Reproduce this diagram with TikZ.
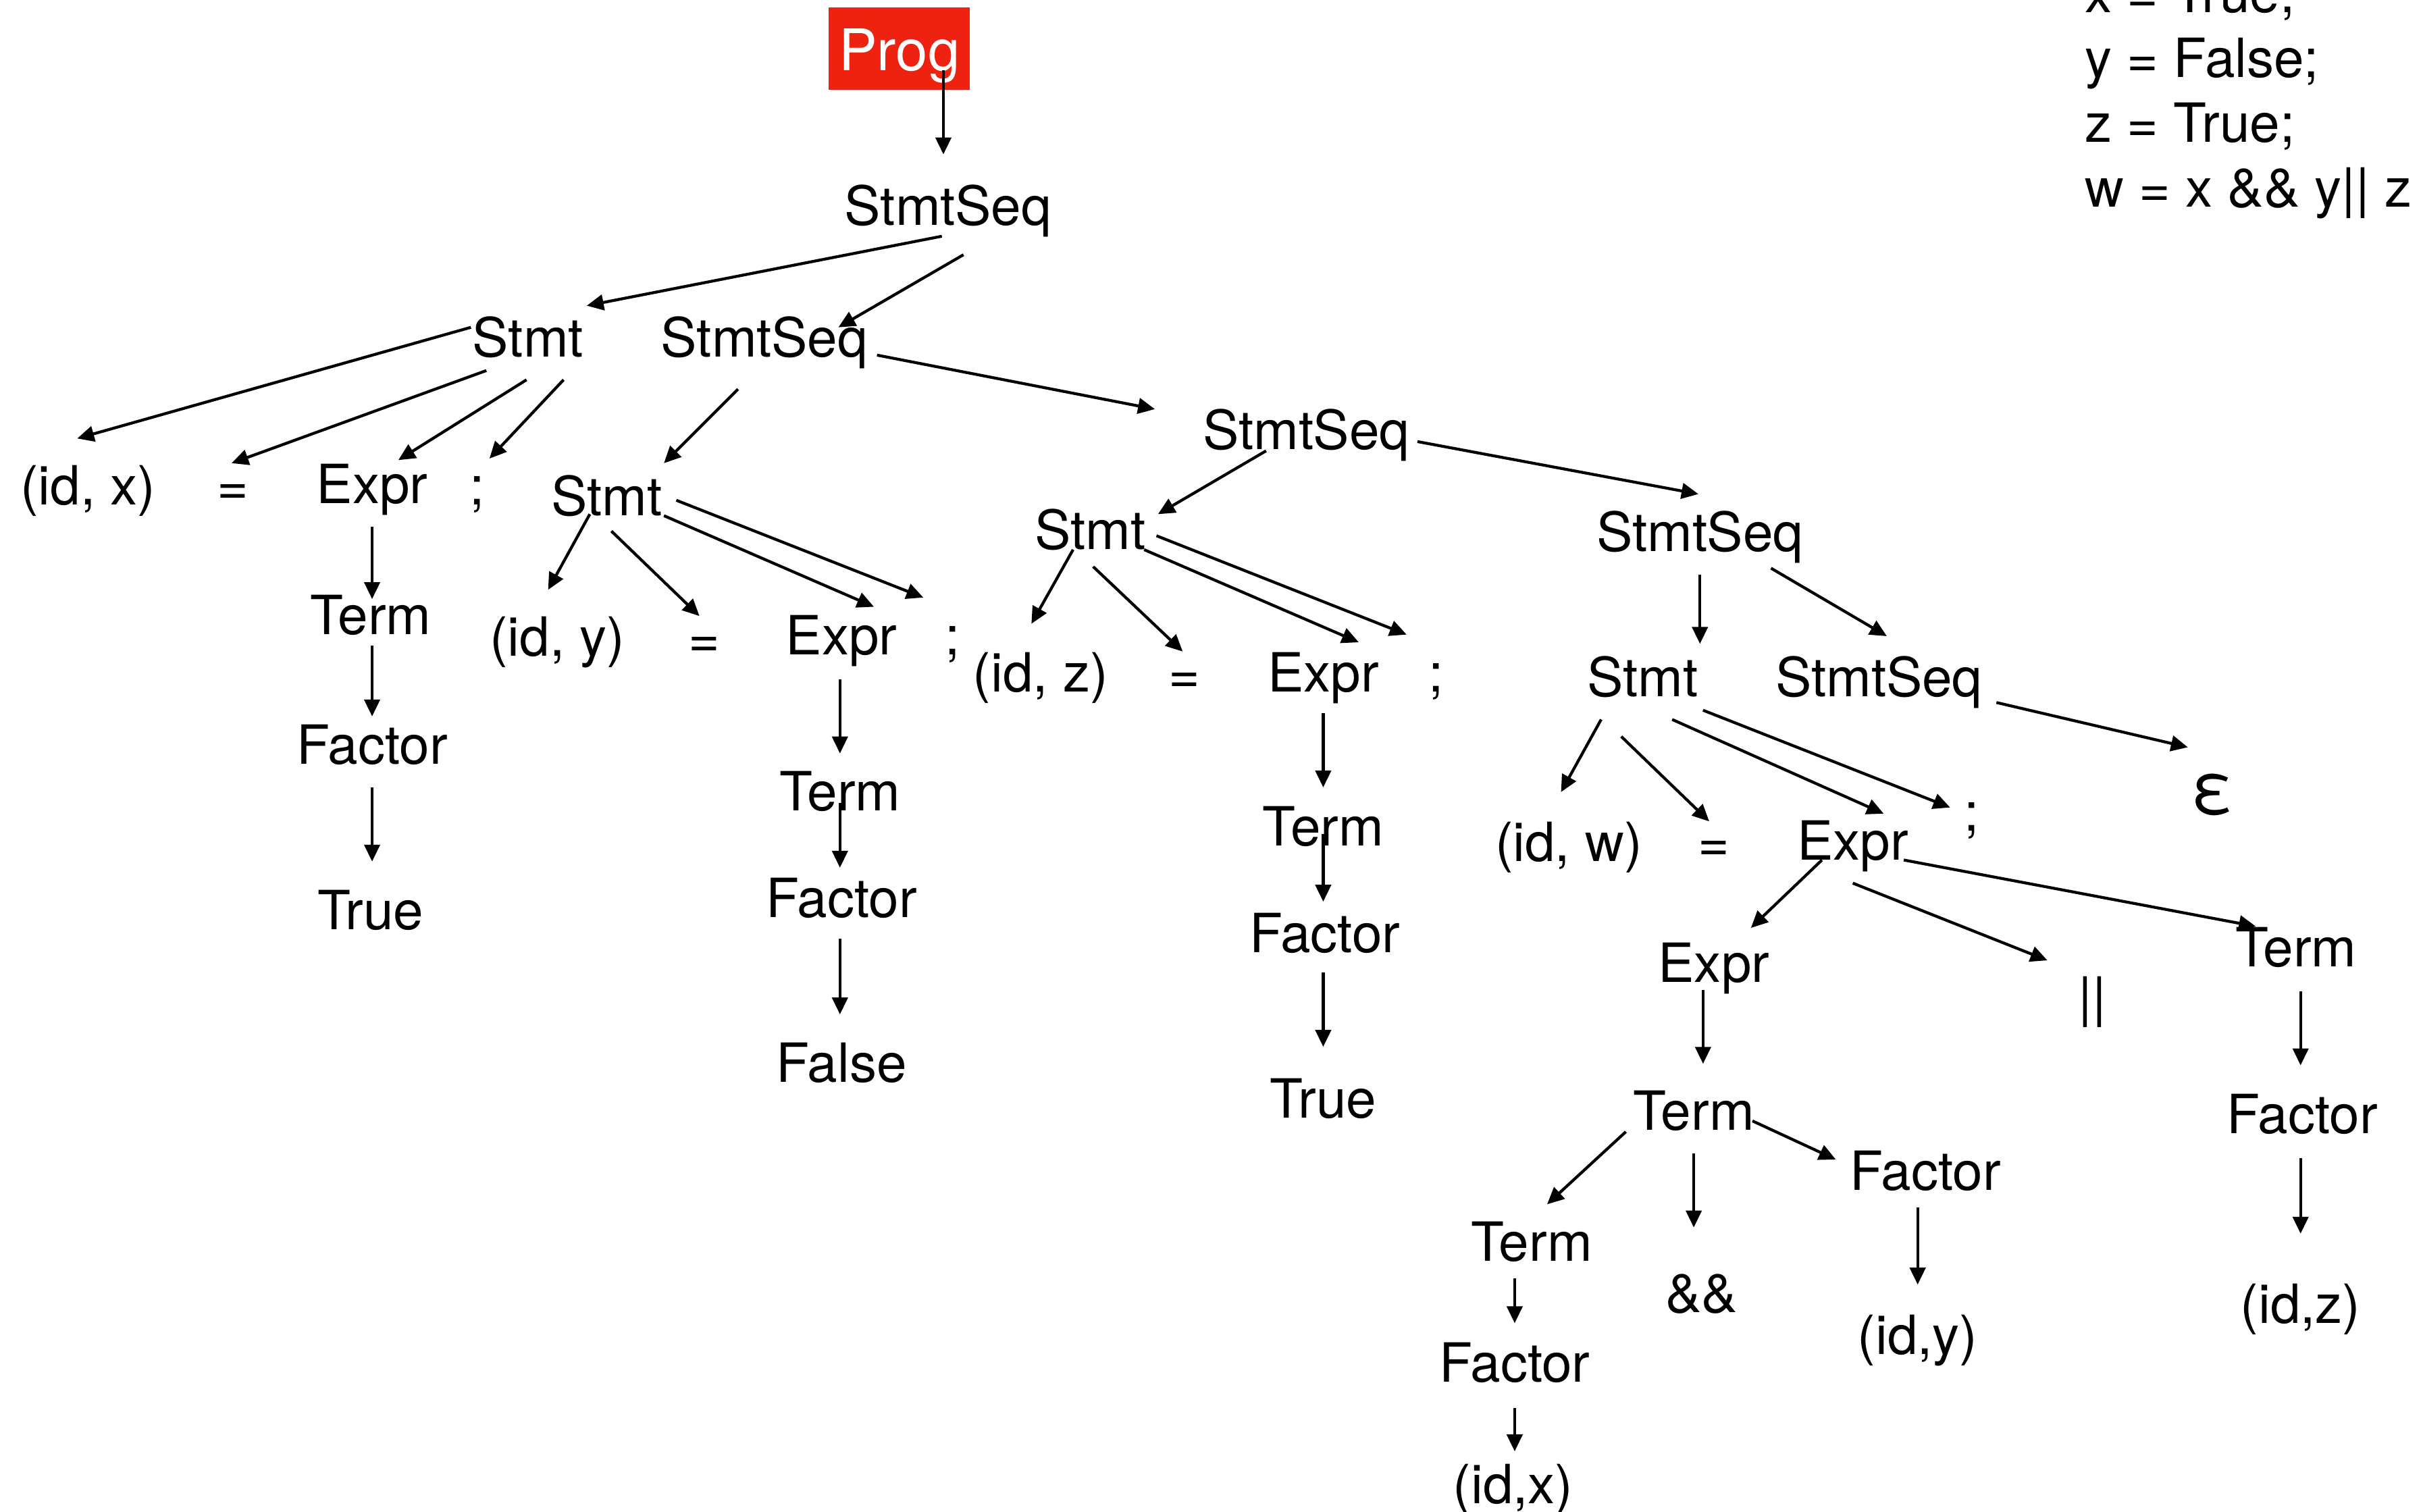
\documentclass[tikz,border=0pt]{standalone}
\usepackage{fontspec}
\setmainfont{TeX Gyre Heros}
\usetikzlibrary{arrows.meta}
\definecolor{progred}{RGB}{238,34,17}
\newcommand\tedge[4]{\draw[arr] ([shift={(#2)}]#1.base) -- ([shift={(#4)}]#3.base);}
\begin{document}
\begin{tikzpicture}[x=0.457pt,y=-0.457pt,
  lbl/.style={anchor=base,inner sep=0pt,font=\fontsize{16}{19}\selectfont},
  codeline/.style={anchor=base west,inner sep=0pt,font=\fontsize{16}{19}\selectfont},
  arr/.style={line width=0.85pt,-{Triangle[length=5pt,width=4.6pt]}}]
\useasboundingbox (0,0) rectangle (1568,979);
\clip (0,0) rectangle (1568,979);
% code
\node[codeline] (code1) at (1350,8) {x = True;};
\node[codeline] (code2) at (1350,50) {y = False;};
\node[codeline] (code3) at (1350,92) {z = True;};
\node[codeline] (code4) at (1350,134) {w = x \&\& y|| z};
% nodes
\node[lbl,font=\fontsize{17}{20}\selectfont,fill=progred,text=white,text height=18.55pt,text depth=5.67pt,minimum width=41.8pt] (prog) at (582.5,45.6) {Prog};
\node[lbl] (ss1) at (614,146) {StmtSeq};
\node[lbl] (sta) at (342,231) {Stmt};
\node[lbl] (ss2) at (495,231) {StmtSeq};
\node[lbl] (idx) at (57,327) {(id, x)};
\node[lbl] (eqa) at (151,327) {=};
\node[lbl] (exa) at (241,326) {Expr};
\node[lbl] (sca) at (309,327) {;};
\node[lbl] (stb) at (393,334) {Stmt};
\node[lbl] (ss3) at (846,291) {StmtSeq};
\node[lbl] (tma) at (240,411) {Term};
\node[lbl] (fca) at (241,495) {Factor};
\node[lbl] (tra) at (240,602) {True};
\node[lbl] (idy) at (361,425) {(id, y)};
\node[lbl] (eqb) at (456,426) {=};
\node[lbl] (exb) at (545,424) {Expr};
\node[lbl] (scb) at (617,424) {;};
\node[lbl] (tmb) at (544,525) {Term};
\node[lbl] (fcb) at (545,594) {Factor};
\node[lbl] (fal) at (545,701) {False};
\node[lbl] (stc) at (706,356) {Stmt};
\node[lbl] (ss4) at (1101,357) {StmtSeq};
\node[lbl] (idz) at (674,448) {(id, z)};
\node[lbl] (eqc) at (767,449) {=};
\node[lbl] (exc) at (857,448) {Expr};
\node[lbl] (scc) at (930,448) {;};
\node[lbl] (tmc) at (857,548) {Term};
\node[lbl] (fcc) at (858,617) {Factor};
\node[lbl] (trc) at (857,724) {True};
\node[lbl] (std) at (1064,451) {Stmt};
\node[lbl] (ss5) at (1217,451) {StmtSeq};
\node[lbl,font=\fontsize{21}{24}\selectfont] (eps) at (1433,527) {ε};
\node[lbl] (idw) at (1016,558) {(id, w)};
\node[lbl] (eqd) at (1110,558) {=};
\node[lbl] (exd) at (1200,557) {Expr};
\node[lbl] (scd) at (1277,538) {;};
\node[lbl] (ex2) at (1110,636) {Expr};
\node[lbl] (orr) at (1355,658) {||};
\node[lbl] (tmr) at (1487,626) {Term};
\node[lbl] (tm2) at (1097,732) {Term};
\node[lbl] (fc2) at (1247,771) {Factor};
\node[lbl] (fcr) at (1491,734) {Factor};
\node[lbl] (tm3) at (992,817) {Term};
\node[lbl] (amp) at (1102,850) {\&\&};
\node[lbl] (idy2) at (1242,877) {(id,y)};
\node[lbl] (idz2) at (1490,857) {(id,z)};
\node[lbl] (fc3) at (981,895) {Factor};
\node[lbl] (idx2) at (980,974) {(id,x)};
% edges
\tedge{prog}{28.5,0}{ss1}{-3,-46}
\tedge{ss1}{-4,7}{sta}{38,-33}
\tedge{ss1}{10,19}{ss2}{48,-19}
\tedge{sta}{-37,-19}{idx}{-7,-43}
\tedge{sta}{-27,9}{eqa}{-1,-27}
\tedge{sta}{-1,15}{exa}{17,-28}
\tedge{sta}{23,15}{sca}{8,-30}
\tedge{ss2}{-17,21}{stb}{37,-34}
\tedge{ss2}{73,-1}{ss3}{-98,-26}
\tedge{stb}{-11,-1}{idy}{-6,-43}
\tedge{stb}{3,10}{eqb}{-3,-27}
\tedge{stb}{37,0}{exb}{21,-31}
\tedge{stb}{45,-10}{scb}{-19,-37}
\tedge{exa}{0,15}{tma}{1,-23}
\tedge{tma}{1,7}{fca}{0,-31}
\tedge{fca}{0,15}{tra}{1,-44}
\tedge{exb}{-1,16}{tmb}{0,-37}
\tedge{tmb}{0,-5}{fcb}{-1,-32}
\tedge{fcb}{-1,14}{fal}{-1,-44}
\tedge{ss3}{-26,1}{stc}{44,-23}
\tedge{ss3}{72,-5}{ss4}{-1,-37}
\tedge{stc}{-11,0}{idz}{-6,-44}
\tedge{stc}{2,11}{eqc}{-1,-27}
\tedge{stc}{35,0}{exc}{23,-32}
\tedge{stc}{43,-9}{scc}{-19,-37}
\tedge{exc}{0,14}{tmc}{0,-38}
\tedge{tmc}{0,-8}{fcc}{-1,-33}
\tedge{fcc}{-1,13}{trc}{0,-46}
\tedge{ss4}{0,15}{std}{37,-34}
\tedge{ss4}{46,11}{ss5}{5,-39}
\tedge{std}{-27,15}{idw}{-5,-45}
\tedge{std}{-14,26}{eqd}{-3,-26}
\tedge{std}{19,15}{exd}{20,-30}
\tedge{std}{39,9}{scd}{-14,-15}
\tedge{ss5}{76,4}{eps}{-16,-43}
\tedge{exd}{-20,0}{ex2}{24,-35}
\tedge{exd}{0,15}{orr}{-29,-36}
\tedge{exd}{33,0}{tmr}{-26,-26}
\tedge{ex2}{-7,5}{tm2}{6,-43}
\tedge{tm2}{-44,1}{tm3}{10,-37}
\tedge{tm2}{0,15}{amp}{-5,-55}
\tedge{tm2}{38,-6}{fc2}{-58,-20}
\tedge{tm3}{-11,11}{fc3}{0,-38}
\tedge{fc3}{0,17}{idx2}{1,-34}
\tedge{fc2}{-5,11}{idy2}{0,-45}
\tedge{tmr}{3,16}{fcr}{-1,-44}
\tedge{fcr}{-1,16}{idz2}{0,-58}
\end{tikzpicture}
\end{document}
